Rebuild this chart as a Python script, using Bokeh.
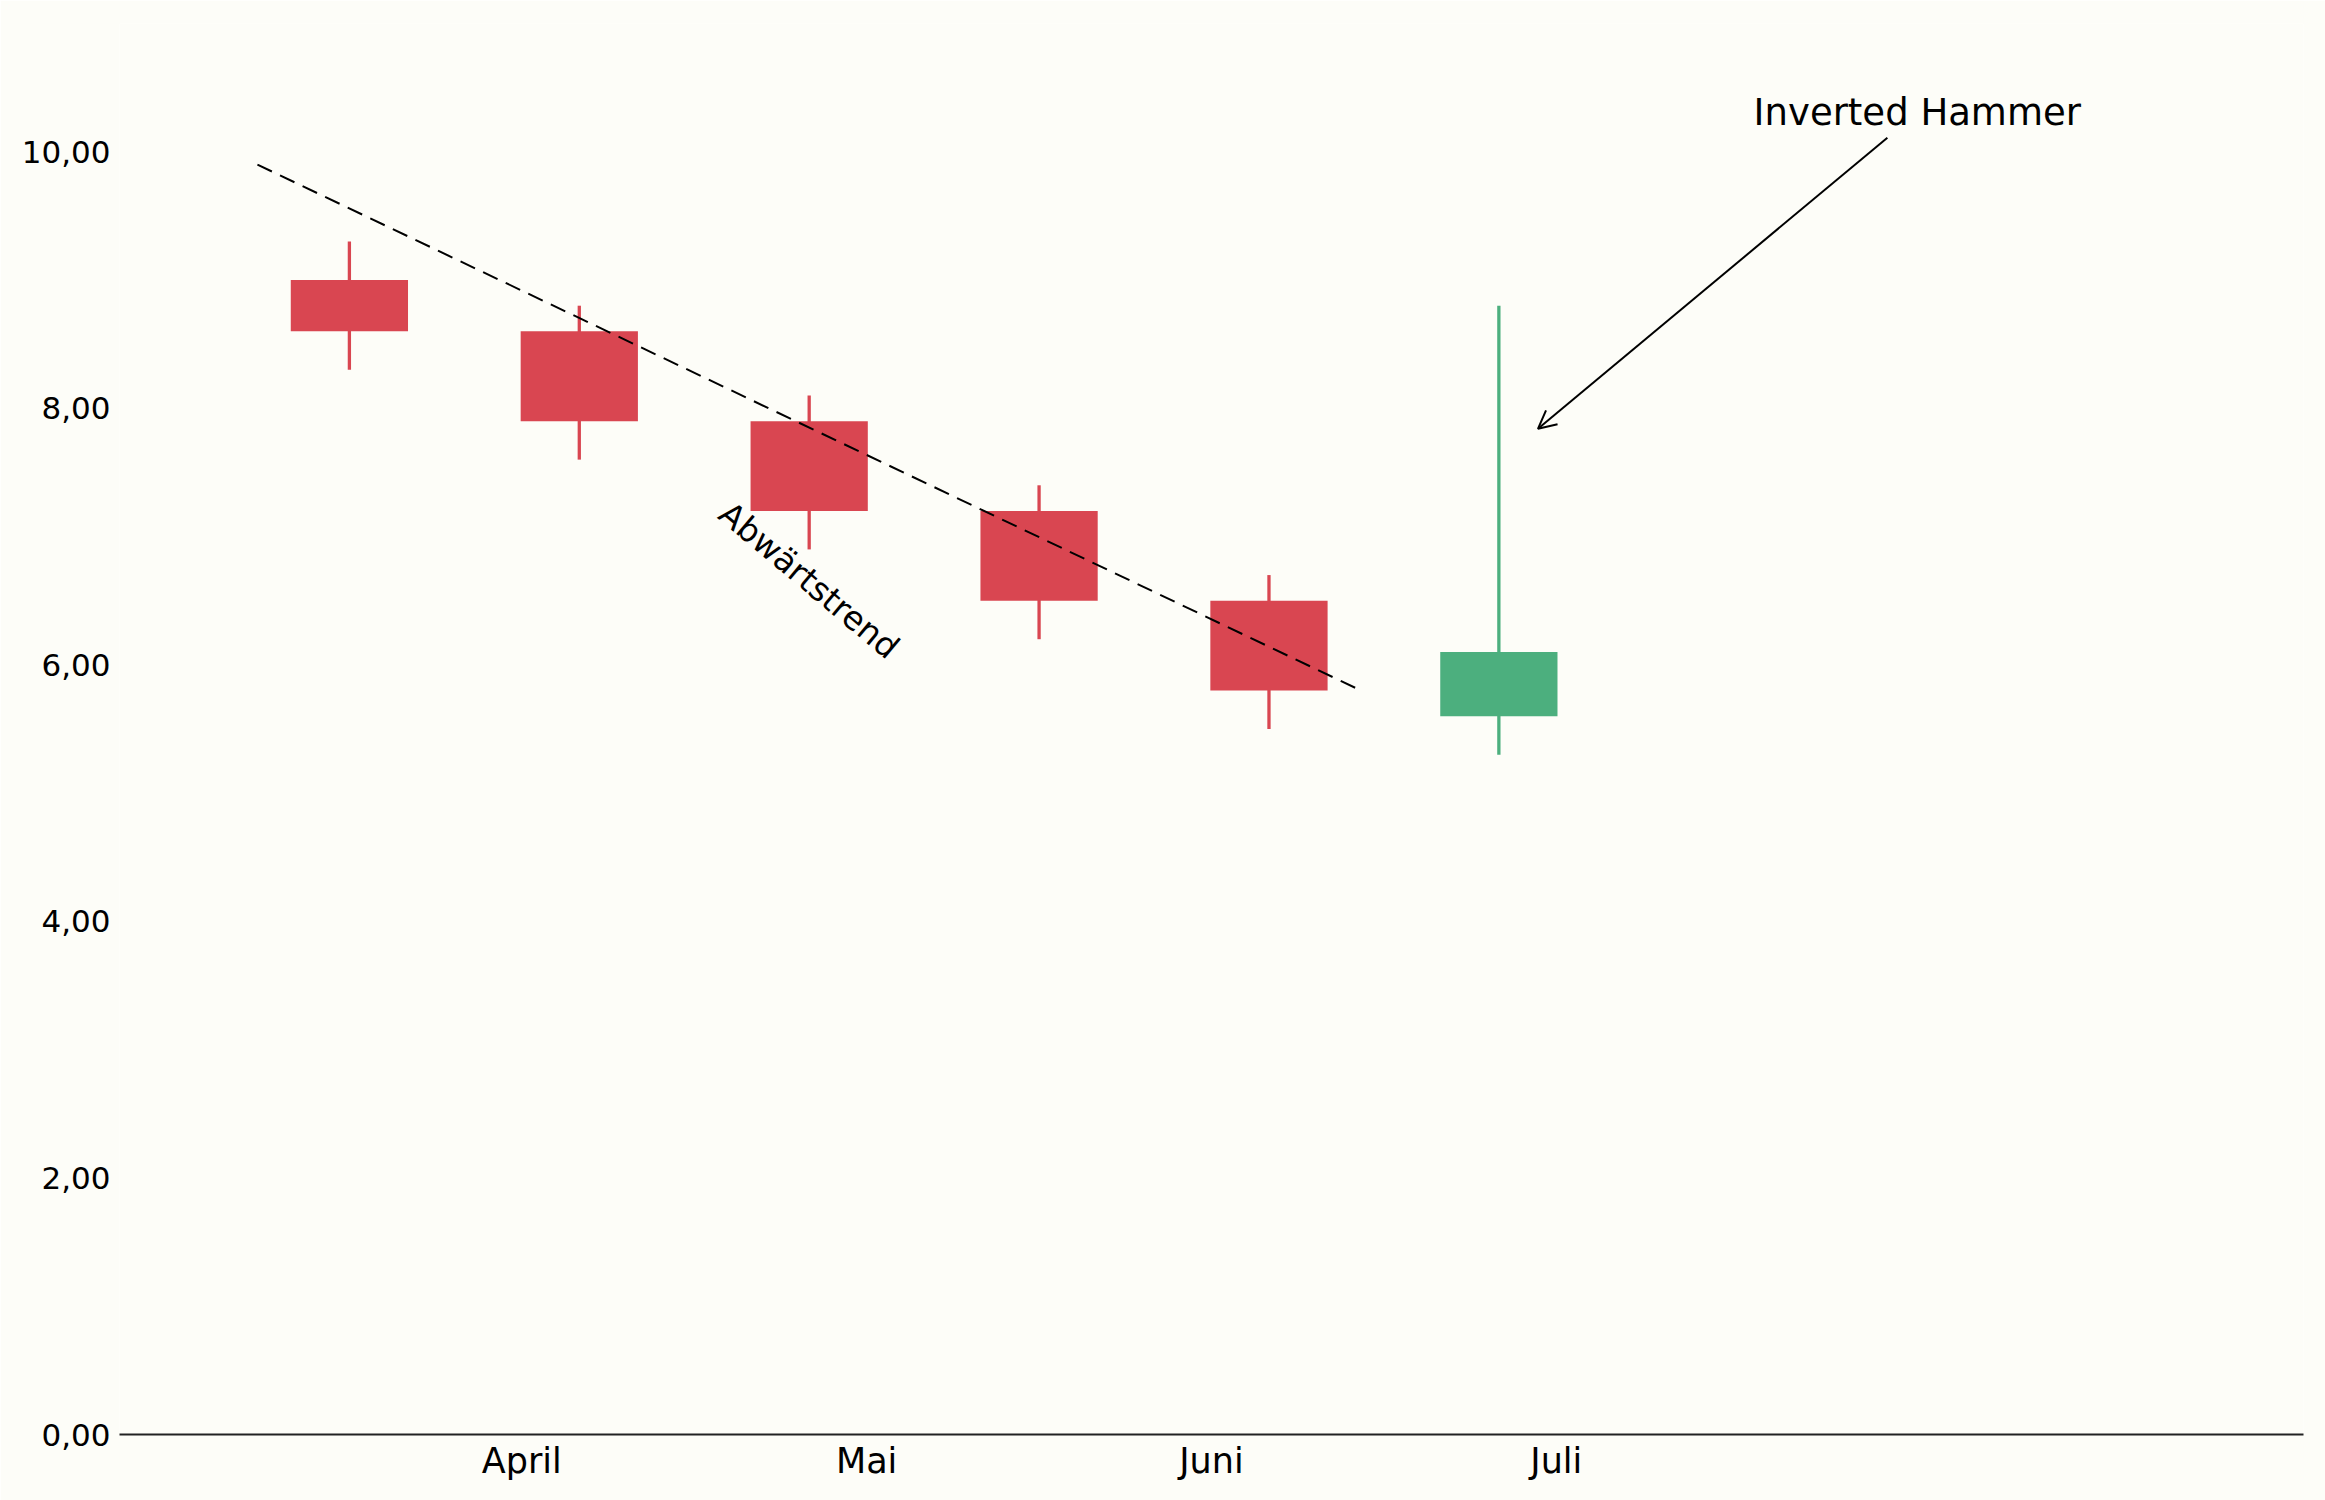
from bokeh.plotting import figure
from bokeh.embed import file_html
from bokeh.resources import INLINE
from bokeh.models import Range1d, FixedTicker, CustomJSTickFormatter, Arrow, OpenHead, ColumnDataSource
from bokeh.core.properties import value

# candles (one per slot, 0..5)
slots = [0, 1, 2, 3, 4, 5]
opens = [9.0, 8.6, 7.9, 7.2, 6.5, 5.6]
closes = [8.6, 7.9, 7.2, 6.5, 5.8, 6.1]
highs = [9.3, 8.8, 8.1, 7.4, 6.7, 8.8]
lows = [8.3, 7.6, 6.9, 6.2, 5.5, 5.3]

# month labels on the x axis
month_pos = [0.75, 2.25, 3.75, 5.25]
month_names = ["April", "Mai", "Juni", "Juli"]

y_ticks = [0, 2, 4, 6, 8, 10]

# dashed downtrend line
trend_x = [-0.4, 4.4]
trend_y = [9.9, 5.8]

# annotations
trend_label = "Abwärtstrend"
trend_label_pos = (2.0, 6.66)
hammer_label = "Inverted Hammer"
hammer_label_pos = (6.82, 10.31)
arrow_from = (6.69, 10.11)
arrow_to = (5.17, 7.84)

RED = "#d94651"
GREEN = "#4caf7e"
BG = "#fdfdf8"
FONT = "DejaVu Sans"

colors = [GREEN if c > o else RED for o, c in zip(opens, closes)]
src = ColumnDataSource(dict(
    x=slots,
    top=[max(o, c) for o, c in zip(opens, closes)],
    bottom=[min(o, c) for o, c in zip(opens, closes)],
    high=highs,
    low=lows,
    color=colors,
))

p = figure(
    width=2325,
    height=1500,
    x_range=Range1d(-1, 8.5),
    y_range=Range1d(0, 11),
    output_backend="svg",
    toolbar_location=None,
    min_border_left=119,
    min_border_right=22,
    min_border_top=23,
    min_border_bottom=66,
)
p.background_fill_color = BG
p.border_fill_color = BG
p.outline_line_color = None
p.grid.visible = False

p.segment(x0="x", y0="low", x1="x", y1="high", source=src, color="color", line_width=3.3)
p.vbar(x="x", width=0.51, top="top", bottom="bottom", source=src, fill_color="color", line_color=None)

p.line(trend_x, trend_y, color="black", line_width=2, line_dash="16 9")

p.text(x=[trend_label_pos[0]], y=[trend_label_pos[1]], text=[trend_label],
       angle=-40, angle_units="deg", text_align="center", text_baseline="middle",
       text_font=value(FONT), text_font_size="33px", text_color="black")
p.text(x=[hammer_label_pos[0]], y=[hammer_label_pos[1]], text=[hammer_label],
       text_align="center", text_baseline="middle",
       text_font=value(FONT), text_font_size="37px", text_color="black")
p.add_layout(Arrow(end=OpenHead(size=18, line_width=2, line_color="black"),
                   x_start=arrow_from[0], y_start=arrow_from[1],
                   x_end=arrow_to[0], y_end=arrow_to[1],
                   line_width=2, line_color="black"))

# x axis: only the baseline and month names
p.xaxis.ticker = FixedTicker(ticks=month_pos)
p.xaxis.major_label_overrides = {pos: name for pos, name in zip(month_pos, month_names)}
p.xaxis.major_tick_line_color = None
p.xaxis.minor_tick_line_color = None
p.xaxis.axis_line_color = "#222222"
p.xaxis.axis_line_width = 2
p.xaxis.major_label_text_font = FONT
p.xaxis.major_label_text_font_size = "35px"
p.xaxis.major_label_text_color = "black"
p.xaxis.major_label_standoff = 0

# y axis: labels only, german decimal comma
p.yaxis.ticker = FixedTicker(ticks=y_ticks)
p.yaxis.formatter = CustomJSTickFormatter(code="return tick.toFixed(2).replace('.', ',');")
p.yaxis.axis_line_color = None
p.yaxis.major_tick_line_color = None
p.yaxis.minor_tick_line_color = None
p.yaxis.major_label_text_font = FONT
p.yaxis.major_label_text_font_size = "31px"
p.yaxis.major_label_text_color = "black"
p.yaxis.major_label_standoff = 3

open("out.html", "w").write(file_html(p, INLINE))
